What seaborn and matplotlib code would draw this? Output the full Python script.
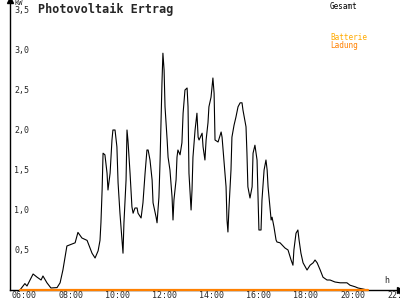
import matplotlib
matplotlib.use("Agg")
import matplotlib.pyplot as plt
import matplotlib.transforms as mtransforms
import seaborn as sns
import pandas as pd

# --- data ---
hours = [6.19, 6.40, 6.49, 6.75, 6.92, 7.09, 7.17, 7.34, 7.51, 7.77, 7.90, 8.02, 8.19, 8.54, 8.66,
         8.83, 9.05, 9.26, 9.39, 9.52, 9.60, 9.64, 9.69, 9.73, 9.81, 9.90, 9.94, 10.03, 10.11, 10.15,
         10.24, 10.32, 10.37, 10.45, 10.54, 10.58, 10.62, 10.71, 10.75, 10.79, 10.88, 10.96, 11.01,
         11.09, 11.18, 11.22, 11.35, 11.43, 11.52, 11.60, 11.65, 11.73, 11.82, 11.86, 11.99, 12.03,
         12.11, 12.16, 12.24, 12.28, 12.33, 12.37, 12.46, 12.50, 12.58, 12.67, 12.71, 12.75, 12.84,
         12.88, 12.92, 13.01, 13.09, 13.14, 13.22, 13.31, 13.35, 13.37, 13.39, 13.48, 13.52, 13.56,
         13.65, 13.73, 13.78, 13.82, 13.95, 13.99, 14.07, 14.12, 14.20, 14.24, 14.33, 14.41, 14.46,
         14.50, 14.63, 14.76, 14.80, 14.88, 14.97, 15.01, 15.05, 15.09, 15.18, 15.22, 15.31, 15.39,
         15.48, 15.57, 15.65, 15.69, 15.82, 15.86, 15.90, 15.99, 16.08, 16.12, 16.20, 16.29, 16.33,
         16.37, 16.46, 16.50, 16.59, 16.67, 16.72, 16.76, 16.89, 16.93, 17.01, 17.10, 17.14, 17.27,
         17.48, 17.61, 17.74, 17.82, 17.86, 17.95, 18.03, 18.08, 18.16, 18.25, 18.42, 18.55, 18.68,
         18.76, 18.85, 18.98, 19.10, 19.27, 19.40, 19.61, 19.83, 19.95, 20.12, 20.25, 20.47, 20.59,
         20.80, 20.98]
gesamt_kw = [0.0, 0.08, 0.05, 0.20, 0.16, 0.125, 0.175, 0.09, 0.025, 0.03, 0.09, 0.25, 0.55, 0.59, 0.72,
             0.65, 0.62, 0.46, 0.40, 0.49, 0.62, 0.84, 1.25, 1.71, 1.69, 1.46, 1.25, 1.46, 1.875, 2.0,
             2.0, 1.79, 1.34, 0.96, 0.62, 0.46, 0.84, 1.375, 2.0, 1.875, 1.46, 1.04, 0.96,
             1.025, 1.025, 0.96, 0.90, 1.09, 1.46, 1.75, 1.75, 1.625, 1.375, 1.09, 0.91, 0.84,
             1.16, 1.625, 2.59, 2.96, 2.75, 2.29, 1.875, 1.66, 1.5, 1.16, 0.875, 1.125, 1.375,
             1.66, 1.75, 1.69, 1.84, 2.21, 2.5, 2.525, 2.29, 1.875, 1.46, 1.0, 1.25, 1.66,
             2.0, 2.21, 1.91, 1.875, 1.96, 1.79, 1.625, 1.875, 2.09, 2.29, 2.41, 2.65, 2.46,
             1.875, 1.85, 1.975, 1.91, 1.625, 1.29, 0.875, 0.725, 1.0, 1.5, 1.91, 2.06, 2.16,
             2.29, 2.34, 2.34, 2.25, 2.04, 1.71, 1.29, 1.15, 1.29, 1.71, 1.81, 1.625, 1.16,
             0.75, 0.75, 1.125, 1.5, 1.625, 1.5, 1.29, 0.875, 0.91, 0.79, 0.625, 0.6, 0.59,
             0.525, 0.5, 0.375, 0.31, 0.5, 0.71, 0.75, 0.625, 0.46, 0.34, 0.25, 0.31, 0.34,
             0.375, 0.34, 0.25, 0.16, 0.125, 0.125, 0.10, 0.09, 0.09, 0.09, 0.06, 0.04, 0.025,
             0.0125, 0.0]
ladung_hours = [6.19, 21.0]
ladung_kw = [0.0, 0.0]
x_ticks = [6, 8, 10, 12, 14, 16, 18, 20, 22]
x_labels = ["06:00", "08:00", "10:00", "12:00", "14:00", "16:00", "18:00", "20:00", "22:00"]
y_ticks = [0.5, 1.0, 1.5, 2.0, 2.5, 3.0, 3.5]
y_labels = ["0,5", "1,0", "1,5", "2,0", "2,5", "3,0", "3,5"]
title = "Photovoltaik Ertrag"
legend_names = ["Gesamt", "Batterie", "Ladung"]
legend_colors = ["black", "#FFAA00", "#FF8000"]

sns.set_style("white")
plt.rcParams["font.family"] = ["DejaVu Sans Mono", "DejaVu Sans"]

fig = plt.figure(figsize=(4, 3), dpi=100)
ax = fig.add_axes([0.025, 1 - 290 / 300, 0.975, 290 / 300])

df = pd.DataFrame({"h": hours, "kw": gesamt_kw})
sns.lineplot(data=df, x="h", y="kw", ax=ax, color="black", linewidth=0.8, estimator=None, sort=False)
dfl = pd.DataFrame({"h": ladung_hours, "kw": ladung_kw})
sns.lineplot(data=dfl, x="h", y="kw", ax=ax, color="#FF8000", linewidth=1.6, estimator=None,
             sort=False, clip_on=False, zorder=5)

ax.set_xlim(5.766, 22.38)
ax.set_ylim(0, 3.625)
ax.set_xlabel("")
ax.set_ylabel("")
for s in ["top", "right"]:
    ax.spines[s].set_visible(False)
for s in ["left", "bottom"]:
    ax.spines[s].set_color("black")
    ax.spines[s].set_linewidth(1.0)

ax.set_xticks(x_ticks)
ax.set_xticklabels([])
ax.tick_params(axis="x", direction="inout", length=6, width=1, colors="black")
ax.set_yticks(y_ticks)
ax.set_yticklabels([])
ax.tick_params(axis="y", direction="inout", length=6, width=1, colors="black")

# x tick labels: left-anchored slightly before each tick, at the bottom edge
xtr = mtransforms.blended_transform_factory(ax.transData, fig.transFigure)
off = mtransforms.ScaledTranslation(-4 / 100, 0, fig.dpi_scale_trans)
for v, lab in zip(x_ticks, x_labels):
    ax.text(v, 0.5 / 300, lab, transform=xtr + off, fontsize=6, ha="left", va="bottom",
            clip_on=False)

ytr = ax.get_yaxis_transform()
for v, lab in zip(y_ticks, y_labels):
    ax.text(0.011, v, lab, transform=ytr, fontsize=6, ha="left", va="center")

# axis arrows
ax.plot(1, 0, ">", color="black", markersize=4, transform=ax.transAxes, clip_on=False)
ax.plot(0, 1, "^", color="black", markersize=4, transform=ax.transAxes, clip_on=False)
ax.text(0.011, 1.0, "KW", transform=ax.transAxes, fontsize=5, ha="left", va="top")
ax.text(0.965, 0.017, "h", transform=ax.transAxes, fontsize=6, ha="center", va="bottom")

fig.text(38 / 400, 1 - 3 / 300, title, fontsize=8.5, fontweight="bold", ha="left", va="top")
ys = [2, 33, 41]
for name, col, y in zip(legend_names, legend_colors, ys):
    fig.text(330 / 400, 1 - y / 300, name, fontsize=5.5, color=col, ha="left", va="top")

fig.savefig("out.png", dpi=100)
